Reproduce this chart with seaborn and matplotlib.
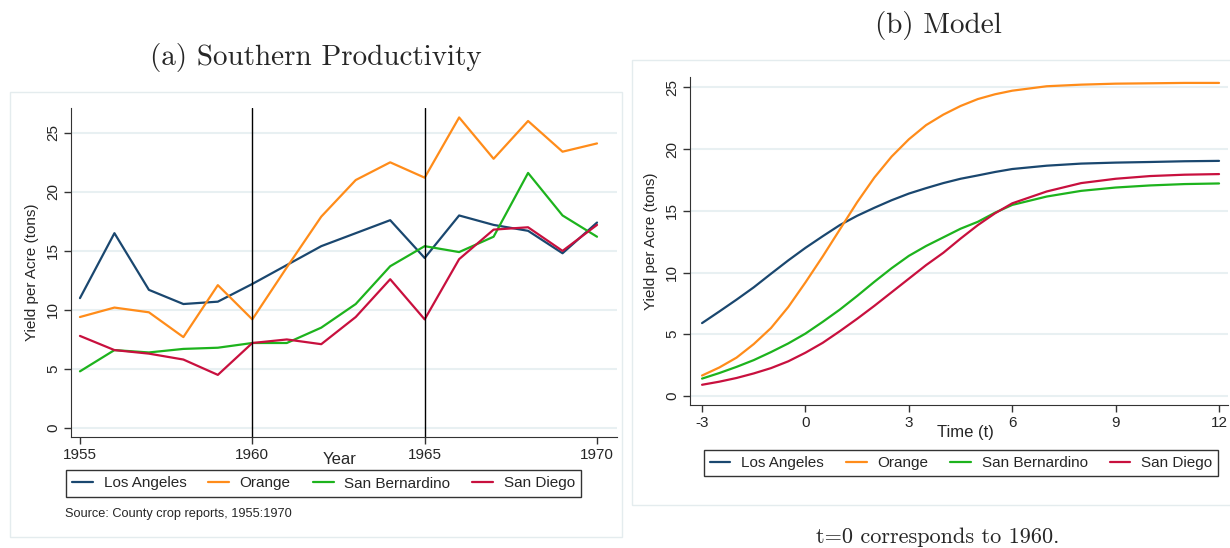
import numpy as np
import pandas as pd
import matplotlib
matplotlib.use("Agg")
import matplotlib.pyplot as plt
from matplotlib.patches import Rectangle
import seaborn as sns

sns.set_style("white")
plt.rcParams['font.family'] = ['Liberation Sans', 'DejaVu Sans']

counties = ['Los Angeles', 'Orange', 'San Bernardino', 'San Diego']
colors = ['#1a476f', '#ff8c1a', '#1db31d', '#c8103e']

# (a) observed yields, 1955-1970
years = list(range(1955, 1971))
la_obs = [11.0, 16.5, 11.7, 10.5, 10.7, 12.2, 13.8, 15.4, 16.5, 17.6, 14.4, 18.0, 17.2, 16.7, 14.8, 17.4]
or_obs = [9.4, 10.2, 9.8, 7.7, 12.1, 9.2, 13.6, 17.9, 21.0, 22.5, 21.2, 26.3, 22.8, 26.0, 23.4, 24.1]
sb_obs = [4.8, 6.6, 6.4, 6.7, 6.8, 7.2, 7.2, 8.5, 10.5, 13.7, 15.4, 14.9, 16.2, 21.6, 18.0, 16.2]
sd_obs = [7.8, 6.6, 6.3, 5.8, 4.5, 7.2, 7.5, 7.1, 9.4, 12.6, 9.2, 14.3, 16.8, 17.0, 15.0, 17.2]

# (b) model paths, read every half period up to t=6, then every period
t_vals = [-3, -2.5, -2, -1.5, -1, -0.5, 0, 0.5, 1, 1.5, 2, 2.5, 3, 3.5, 4, 4.5, 5, 5.5,
          6, 7, 8, 9, 10, 11, 12]
la_mod = [5.9, 6.84, 7.8, 8.8, 9.9, 10.98, 12.0, 12.94, 13.85, 14.6, 15.25, 15.86, 16.4,
          16.84, 17.25, 17.6, 17.87, 18.15, 18.39, 18.66, 18.83, 18.91, 18.96, 19.02, 19.05]
or_mod = [1.65, 2.3, 3.1, 4.2, 5.5, 7.2, 9.2, 11.3, 13.5, 15.7, 17.7, 19.4, 20.8,
          21.95, 22.8, 23.5, 24.06, 24.45, 24.74, 25.1, 25.23, 25.31, 25.34, 25.37, 25.37]
sb_mod = [1.4, 1.85, 2.35, 2.9, 3.55, 4.25, 5.05, 6.0, 7.0, 8.1, 9.25, 10.35, 11.35,
          12.15, 12.85, 13.55, 14.11, 14.85, 15.48, 16.16, 16.62, 16.89, 17.06, 17.17, 17.22]
sd_mod = [0.9, 1.15, 1.45, 1.82, 2.25, 2.8, 3.5, 4.3, 5.25, 6.25, 7.3, 8.4, 9.5,
          10.6, 11.6, 12.75, 13.84, 14.8, 15.61, 16.57, 17.25, 17.6, 17.82, 17.93, 17.98]

obs = pd.DataFrame({'Year': years * 4,
                    'county': np.repeat(counties, len(years)),
                    'y': la_obs + or_obs + sb_obs + sd_obs})
mod = pd.DataFrame({'t': t_vals * 4,
                    'county': np.repeat(counties, len(t_vals)),
                    'y': la_mod + or_mod + sb_mod + sd_mod})
pal = dict(zip(counties, colors))

W, H = 1230, 548
fig = plt.figure(figsize=(W / 100, H / 100), dpi=100)

def fx(px):
    return px / W

def fy(py):
    return 1 - py / H

# light frames around each panel
for x0, y0, x1, y1 in [(10, 92, 622, 537), (632, 60, 1235, 505)]:
    fig.patches.append(Rectangle((fx(x0), fy(y1)), fx(x1 - x0), (y1 - y0) / H,
                                 transform=fig.transFigure, fill=False,
                                 edgecolor='#e4ecee', linewidth=1.0))

ax1 = fig.add_axes([fx(71), fy(437), fx(617 - 71), (437 - 108) / H])
ax2 = fig.add_axes([fx(690), fy(405), fx(1228 - 690), (405 - 77) / H])

def style(ax):
    sns.despine(ax=ax)
    ax.spines['left'].set_color('#333333')
    ax.spines['bottom'].set_color('#333333')
    ax.set_yticks([0, 5, 10, 15, 20, 25])
    ax.tick_params(axis='both', direction='out', length=5, width=1, color='#333333',
                   labelsize=11, left=True, bottom=True)
    ax.tick_params(axis='y', pad=3)
    ax.tick_params(axis='x', pad=3)
    for lab in ax.get_yticklabels():
        lab.set_rotation(90)
        lab.set_va('center')
    ax.grid(axis='y', color='#e8f0f2', linewidth=1.5)
    ax.set_axisbelow(True)

sns.lineplot(data=obs, x='Year', y='y', hue='county', palette=pal,
             linewidth=1.6, legend=False, ax=ax1)
handles1 = list(ax1.lines)
ax1.axvline(1960, color='black', linewidth=1.0)
ax1.axvline(1965, color='black', linewidth=1.0)
ax1.set_xlim(1954.74, 1970.58)
ax1.set_ylim(-0.76, 27.1)
ax1.set_xticks([1955, 1960, 1965, 1970])
style(ax1)
ax1.set_xlabel('')
ax1.set_ylabel('Yield per Acre (tons)', fontsize=11, labelpad=5)

sns.lineplot(data=mod, x='t', y='y', hue='county', palette=pal,
             linewidth=1.6, legend=False, ax=ax2)
handles2 = list(ax2.lines)
ax2.set_xlim(-3.35, 12.26)
ax2.set_ylim(-0.74, 25.85)
ax2.set_xticks([-3, 0, 3, 6, 9, 12])
ax2.set_xticklabels(['-3', '0', '3', '6', '9', '12'])
style(ax2)
ax2.set_xlabel('')
ax2.set_ylabel('Yield per Acre (tons)', fontsize=11, labelpad=5)

fig.text(fx(340), fy(460), 'Year', ha='center', va='center', fontsize=12)
fig.text(fx(965), fy(432), 'Time (t)', ha='center', va='center', fontsize=12)

for ax, hs, cx, cy in [(ax1, handles1, 323.5, 483.5), (ax2, handles2, 961, 463)]:
    leg = ax.legend(hs, counties, loc='center', bbox_to_anchor=(fx(cx), fy(cy)),
                    bbox_transform=fig.transFigure, ncol=4, frameon=True,
                    fancybox=False, edgecolor='black', fontsize=11,
                    handlelength=1.35, handletextpad=0.7, columnspacing=1.45,
                    borderpad=0.4, borderaxespad=0)
    leg.get_frame().set_linewidth(1.0)

fig.text(fx(65), fy(514), 'Source: County crop reports, 1955:1970',
         ha='left', va='center', fontsize=9.2)

fig.text(fx(316), fy(57), '(a) Southern Productivity', ha='center', va='center',
         fontsize=21, family='cmr10')
fig.text(fx(938), fy(25), '(b) Model', ha='center', va='center',
         fontsize=21, family='cmr10')
fig.text(fx(938), fy(537), 't=0 corresponds to 1960.', ha='center', va='center',
         fontsize=16, family='cmr10')

fig.savefig('out.png', dpi=100)
